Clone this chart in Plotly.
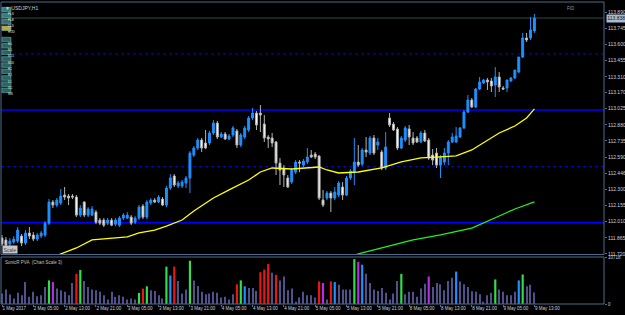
import plotly.graph_objects as go

# ---------------- data ----------------
bar_index = list(range(137))

open_ = [111.863,111.845,111.809,111.827,111.836,111.881,111.818,111.908,111.890,111.854,
         111.881,111.890,111.997,112.186,112.159,112.177,112.249,112.240,112.240,112.231,
         112.069,112.186,112.069,112.069,112.096,112.024,112.024,111.997,112.024,111.988,
         111.979,112.042,112.042,112.051,112.006,112.042,112.150,112.051,112.177,112.204,
         112.186,112.213,112.159,112.312,112.420,112.330,112.330,112.357,112.402,112.608,
         112.671,112.743,112.716,112.716,112.806,112.895,112.770,112.797,112.752,112.788,
         112.824,112.698,112.770,112.833,112.940,112.985,112.985,112.886,112.770,112.761,
         112.725,112.536,112.491,112.402,112.366,112.455,112.545,112.518,112.545,112.608,
         112.617,112.599,112.204,112.222,112.267,112.222,112.249,112.321,112.249,112.402,
         112.455,112.545,112.527,112.653,112.626,112.761,112.698,112.635,112.491,112.940,
         112.886,112.842,112.671,112.743,112.842,112.761,112.761,112.725,112.806,112.743,
         112.608,112.626,112.518,112.545,112.626,112.725,112.725,112.770,112.851,112.994,
         113.102,113.039,113.201,113.255,113.282,113.273,113.237,113.309,113.210,113.210,
         113.273,113.300,113.353,113.488,113.659,113.659,113.722]
high = [111.890,111.872,111.863,111.881,111.962,111.899,111.935,111.962,111.917,111.908,
        111.926,112.015,112.213,112.204,112.222,112.303,112.321,112.258,112.258,112.249,
        112.159,112.195,112.141,112.150,112.114,112.042,112.042,112.042,112.042,112.042,
        112.060,112.087,112.096,112.069,112.060,112.159,112.168,112.204,112.222,112.222,
        112.249,112.231,112.330,112.437,112.437,112.375,112.384,112.420,112.644,112.689,
        112.761,112.761,112.833,112.824,112.922,112.913,112.815,112.815,112.797,112.869,
        112.842,112.806,112.869,112.958,113.030,113.003,113.057,112.967,112.788,112.806,
        112.734,112.581,112.518,112.429,112.491,112.563,112.563,112.572,112.671,112.653,
        112.635,112.608,112.294,112.285,112.285,112.321,112.375,112.366,112.420,112.482,
        112.761,112.698,112.671,112.770,112.779,112.788,112.761,112.653,112.815,112.985,
        112.904,112.860,112.779,112.869,112.878,112.815,112.779,112.824,112.833,112.761,
        112.662,112.671,112.608,112.671,112.743,112.806,112.860,112.860,113.012,113.147,
        113.120,113.210,113.309,113.291,113.300,113.300,113.398,113.353,113.228,113.282,
        113.309,113.371,113.488,113.704,113.704,113.847,113.874]
low = [111.791,111.782,111.791,111.809,111.818,111.791,111.800,111.854,111.836,111.836,
       111.863,111.872,111.979,112.132,112.141,112.159,112.204,112.159,112.213,112.051,
       112.051,112.051,112.051,112.060,111.988,111.979,111.962,111.979,111.970,111.970,
       111.962,112.024,112.033,111.979,111.988,112.024,112.033,112.033,112.159,112.177,
       112.177,112.150,112.141,112.294,112.321,112.312,112.312,112.312,112.267,112.590,
       112.653,112.635,112.662,112.698,112.788,112.752,112.761,112.743,112.743,112.770,
       112.671,112.680,112.752,112.815,112.922,112.833,112.815,112.725,112.671,112.680,
       112.429,112.339,112.321,112.312,112.348,112.437,112.455,112.500,112.527,112.581,
       112.572,112.204,112.141,112.204,112.096,112.204,112.231,112.204,112.240,112.384,
       112.339,112.500,112.509,112.590,112.608,112.608,112.653,112.473,112.473,112.860,
       112.824,112.653,112.662,112.725,112.698,112.698,112.716,112.716,112.725,112.563,
       112.518,112.491,112.402,112.518,112.518,112.716,112.716,112.761,112.842,112.985,
       113.030,113.030,113.192,113.246,113.192,113.174,113.129,113.174,113.192,113.174,
       113.264,113.291,113.344,113.479,113.623,113.641,113.704]
close = [111.809,111.800,111.836,111.854,111.935,111.818,111.908,111.881,111.854,111.890,
         111.908,111.997,112.186,112.159,112.204,112.240,112.231,112.222,112.231,112.069,
         112.132,112.069,112.123,112.123,112.006,111.997,111.979,112.024,111.979,112.024,
         112.042,112.069,112.069,111.997,112.042,112.141,112.051,112.186,112.204,112.186,
         112.231,112.159,112.312,112.402,112.339,112.357,112.366,112.402,112.626,112.671,
         112.743,112.671,112.671,112.806,112.895,112.770,112.797,112.752,112.779,112.851,
         112.698,112.788,112.851,112.940,112.985,112.878,112.967,112.761,112.752,112.716,
         112.536,112.473,112.429,112.321,112.473,112.545,112.536,112.554,112.590,112.590,
         112.590,112.222,112.159,112.267,112.222,112.276,112.357,112.249,112.402,112.464,
         112.545,112.518,112.653,112.635,112.761,112.626,112.725,112.491,112.680,112.878,
         112.833,112.671,112.761,112.851,112.770,112.716,112.725,112.806,112.734,112.581,
         112.563,112.518,112.590,112.626,112.725,112.770,112.779,112.851,112.994,113.102,
         113.039,113.201,113.264,113.282,113.264,113.228,113.309,113.219,113.201,113.282,
         113.300,113.371,113.488,113.659,113.641,113.731,113.838]

volume = [2432,3344,2204,1292,2584,2052,5092,1672,2812,1824,
          2052,3952,5472,5092,3572,3192,2812,2052,4864,6992,
          7904,5320,3952,3344,3192,2812,2052,1064,2812,1672,
          2052,1672,1064,1292,1064,2584,3572,4104,3192,3040,
          2052,1292,8664,6612,8664,5320,2432,3344,10032,5472,
          4200,2812,2280,2432,2812,2584,1520,1672,1064,2280,
          4560,5472,4104,3724,3724,3040,7372,7980,9272,7220,
          6764,5472,6384,3192,3572,532,1520,2812,2052,2052,
          1520,5244,4864,1064,5244,5092,4484,3344,3344,3344,
          10412,9804,9120,6992,4864,3344,3040,3724,2584,1064,
          2432,5320,6992,2280,2812,2812,1672,3572,4712,6384,
          3952,4864,4560,3192,5320,6080,7524,5244,4560,3952,
          2964,2812,2280,532,2052,2584,5700,3344,2812,2052,
          2052,2812,5472,6840,4104,4484,2660]

# PVA signal class per bar: n normal, g bull climax, r bear climax, b bull rising, p bear rising
pva_class = (["n"] * 12 + ["g", "p"] + ["n"] * 5 + ["r", "g"] + ["n"] * 14 + ["g", "r", "g"]
             + ["n"] * 4 + ["g", "b", "r"] + ["n"] * 3 + ["g"] + ["n"] * 11
             + ["r", "g", "b"] + ["n"] * 3 + ["r", "r", "r", "n", "r"] + ["n"] * 10
             + ["r", "p", "n", "r", "b"] + ["n"] * 4 + ["g", "p", "b"] + ["n"] * 9
             + ["g"] + ["n"] * 6 + ["p"] + ["n"] * 6 + ["b"] + ["n"] * 9 + ["g"]
             + ["n"] * 5 + ["b", "g"] + ["n"] * 3)

ma_yellow_idx = [13, 19, 23, 28, 32, 35, 39, 42, 46, 49, 54, 58, 63, 66, 69, 74, 78, 81, 83,
                 86, 91, 94, 97, 102, 107, 112, 116, 120, 124, 127, 131, 134, 136]
ma_yellow = [111.693, 111.774, 111.846, 111.864, 111.873, 111.909, 111.935, 111.971, 112.025,
             112.106, 112.223, 112.295, 112.384, 112.456, 112.492, 112.483, 112.492, 112.501,
             112.474, 112.447, 112.456, 112.474, 112.492, 112.546, 112.582, 112.591, 112.600,
             112.654, 112.744, 112.806, 112.869, 112.941, 113.022]
ma_green_idx = [89, 91, 98, 105, 112, 120, 127, 131, 136]
ma_green = [111.693, 111.720, 111.783, 111.846, 111.891, 111.953, 112.061, 112.124, 112.187]

levels_solid = [113.013, 112.001]
levels_dotted = [113.516, 112.504]
bid_price = 113.838

price_ticks = [113.890, 113.745, 113.600, 113.455, 113.310, 113.170, 113.025, 112.880,
               112.735, 112.590, 112.446, 112.300, 112.155, 112.010, 111.865, 111.720]
price_tick_text = ["113.890", "113.745", "113.600", "113.455", "113.310", "113.170", "113.025",
                   "112.880", "112.735", "112.590", "112.446", "112.300", "112.155", "112.010",
                   "111.865", "111.720"]
time_tick_idx = [0, 8, 16, 24, 32, 40, 48, 56, 64, 72, 80, 88, 96, 104, 112, 120, 128, 136]
time_tick_text = ["1 May 2017", "2 May 05:00", "2 May 13:00", "2 May 21:00", "3 May 05:00",
                  "3 May 13:00", "3 May 21:00", "4 May 05:00", "4 May 13:00", "4 May 21:00",
                  "5 May 05:00", "5 May 13:00", "5 May 21:00", "8 May 05:00", "8 May 13:00",
                  "8 May 21:00", "9 May 05:00", "9 May 13:00"]
vol_max = 10718

# ---------------- style ----------------
FRAME = "#4d6d8d"
LABEL = "#c8d0dc"
FONT = "Liberation Sans"
pva_colors = {"n": "#50508c", "g": "#2ee04a", "r": "#f01414", "b": "#1e90ff", "p": "#b42ee6"}

main_dom = [0.1667, 1.0]
sub_dom = [0.0033, 0.1584]

fig = go.Figure()

fig.add_trace(go.Candlestick(
    x=bar_index, open=open_, high=high, low=low, close=close,
    increasing=dict(line=dict(color="#1e90ff", width=1), fillcolor="#1e90ff"),
    decreasing=dict(line=dict(color="#b4b4b4", width=1), fillcolor="#ffffff"),
    whiskerwidth=0, xaxis="x", yaxis="y", showlegend=False, hoverinfo="skip"))

fig.add_trace(go.Scatter(x=ma_yellow_idx, y=ma_yellow, mode="lines",
                         line=dict(color="#ffff00", width=1.3), xaxis="x", yaxis="y",
                         showlegend=False, hoverinfo="skip"))
fig.add_trace(go.Scatter(x=ma_green_idx, y=ma_green, mode="lines",
                         line=dict(color="#22ee22", width=1.3), xaxis="x", yaxis="y",
                         showlegend=False, hoverinfo="skip"))

fig.add_trace(go.Bar(
    x=bar_index, y=volume,
    marker=dict(color=[pva_colors[c] for c in pva_class], line=dict(width=0)),
    width=[0.28 if c == "n" else 0.55 for c in pva_class],
    xaxis="x2", yaxis="y2", showlegend=False, hoverinfo="skip"))

shapes = []
for lv in levels_solid:
    shapes.append(dict(type="line", xref="x domain", yref="y", x0=0, x1=1, y0=lv, y1=lv,
                       line=dict(color="#0000ff", width=1.6), layer="below"))
for lv in levels_dotted:
    shapes.append(dict(type="line", xref="x domain", yref="y", x0=0, x1=1, y0=lv, y1=lv,
                       line=dict(color="#0000ff", width=1, dash="dot"), layer="below"))
shapes.append(dict(type="line", xref="x domain", yref="y", x0=0, x1=1, y0=bid_price,
                   y1=bid_price, line=dict(color="#2f4a4a", width=1), layer="below"))
# frames
for d in (main_dom, sub_dom):
    shapes.append(dict(type="rect", xref="paper", yref="paper", x0=0.0, x1=1.0, y0=d[0],
                       y1=d[1], line=dict(color=FRAME, width=1)))

annotations = [
    dict(text="▼ USDJPY,H1", xref="paper", yref="paper", x=0.004, y=0.997, xanchor="left",
         yanchor="top", showarrow=False, font=dict(family=FONT, size=5, color="#d0d0d0")),
    dict(text="SonicR PVA  (Chart Scale 3)", xref="paper", yref="paper", x=0.004,
         y=sub_dom[1] - 0.003, xanchor="left", yanchor="top", showarrow=False,
         font=dict(family=FONT, size=4.5, color="#c0c0c0")),
    dict(text="FID", xref="paper", yref="paper", x=0.935, y=0.992, xanchor="left",
         yanchor="top", showarrow=False, font=dict(family=FONT, size=4.5, color="#8898b0")),
    dict(text="Scale", xref="paper", yref="paper", x=0.002, y=main_dom[0] + 0.002,
         xanchor="left", yanchor="bottom", showarrow=False, bgcolor="#c8c8c8",
         font=dict(family=FONT, size=5, color="#404040"), borderpad=0.5),
    dict(text="113.838", xref="paper", yref="y", x=1.003, y=bid_price, xanchor="left",
         yanchor="middle", showarrow=False, bgcolor="#a4bcd8",
         font=dict(family=FONT, size=5, color="#101820"), borderpad=0.3),
]

# small tool buttons on the left
btn_top = ["PLS", "PLB", "CLS", "HOD"]
btn_top_colors = ["#2f8080", "#2f8080", "#3a7070", "#c0a838"]
btn_tf = ["M1", "M5", "M15", "M30", "H1", "H4", "D1", "W1", "MN"]
def py(pix):
    return (305 - pix) / 303.0
ys_top = [7.3, 13.3, 19.5, 26]
ys_tf = [37.3, 43.5, 50, 56.7, 62.8, 69, 75.7, 81.8, 88]
for txt, col, yy in zip(btn_top, btn_top_colors, ys_top):
    shapes.append(dict(type="rect", xref="paper", yref="paper", x0=0.0015, x1=0.0165,
                       y0=py(yy + 4.6), y1=py(yy), fillcolor=col,
                       line=dict(color="#7ab0b0", width=0.6)))
    annotations.append(dict(text=txt, xref="paper", yref="paper", x=0.009, y=py(yy + 2.3),
                            showarrow=False, font=dict(family=FONT, size=3, color="#e0f0f0")))
for txt, yy in zip(btn_tf, ys_tf):
    shapes.append(dict(type="rect", xref="paper", yref="paper", x0=0.0015, x1=0.0165,
                       y0=py(yy + 4.6), y1=py(yy), fillcolor="#2a6464",
                       line=dict(color="#70a8a8", width=0.6)))
    annotations.append(dict(text=txt, xref="paper", yref="paper", x=0.009, y=py(yy + 2.3),
                            showarrow=False, font=dict(family=FONT, size=3, color="#d8f0e0")))

fig.update_layout(
    width=625, height=315,
    margin=dict(l=1, r=21, t=2, b=10),
    paper_bgcolor="#000000", plot_bgcolor="#000000",
    font=dict(family=FONT, color=LABEL),
    showlegend=False,
    xaxis=dict(domain=[0, 1], anchor="y", range=[-0.255, 153.77], showgrid=False,
               zeroline=False, showticklabels=False, ticks="", rangeslider=dict(visible=False),
               fixedrange=True, automargin=False),
    xaxis2=dict(domain=[0, 1], anchor="y2", matches="x", range=[-0.255, 153.77],
                showgrid=False, zeroline=False, tickmode="array", tickvals=time_tick_idx,
                ticktext=time_tick_text, ticks="outside", ticklen=2, tickcolor=FRAME,
                ticklabelposition="outside right", tickangle=0, automargin=False,
                tickfont=dict(family=FONT, size=4.5, color=LABEL), showline=False),
    yaxis=dict(domain=main_dom, anchor="x", side="right", range=[111.7155, 113.982],
               showgrid=False, zeroline=False, tickmode="array", tickvals=price_ticks,
               ticktext=price_tick_text, ticks="outside", ticklen=2, tickcolor=FRAME,
               tickfont=dict(family=FONT, size=5, color=LABEL), automargin=False),
    yaxis2=dict(domain=sub_dom, anchor="x2", side="right", range=[0, 10900],
                showgrid=False, zeroline=False, tickmode="array", tickvals=[0, vol_max],
                ticktext=["0", str(vol_max)], ticks="outside", ticklen=2, tickcolor=FRAME,
                tickfont=dict(family=FONT, size=4.5, color=LABEL), automargin=False),
    shapes=shapes,
    annotations=annotations,
)

fig.write_html("out.html")
